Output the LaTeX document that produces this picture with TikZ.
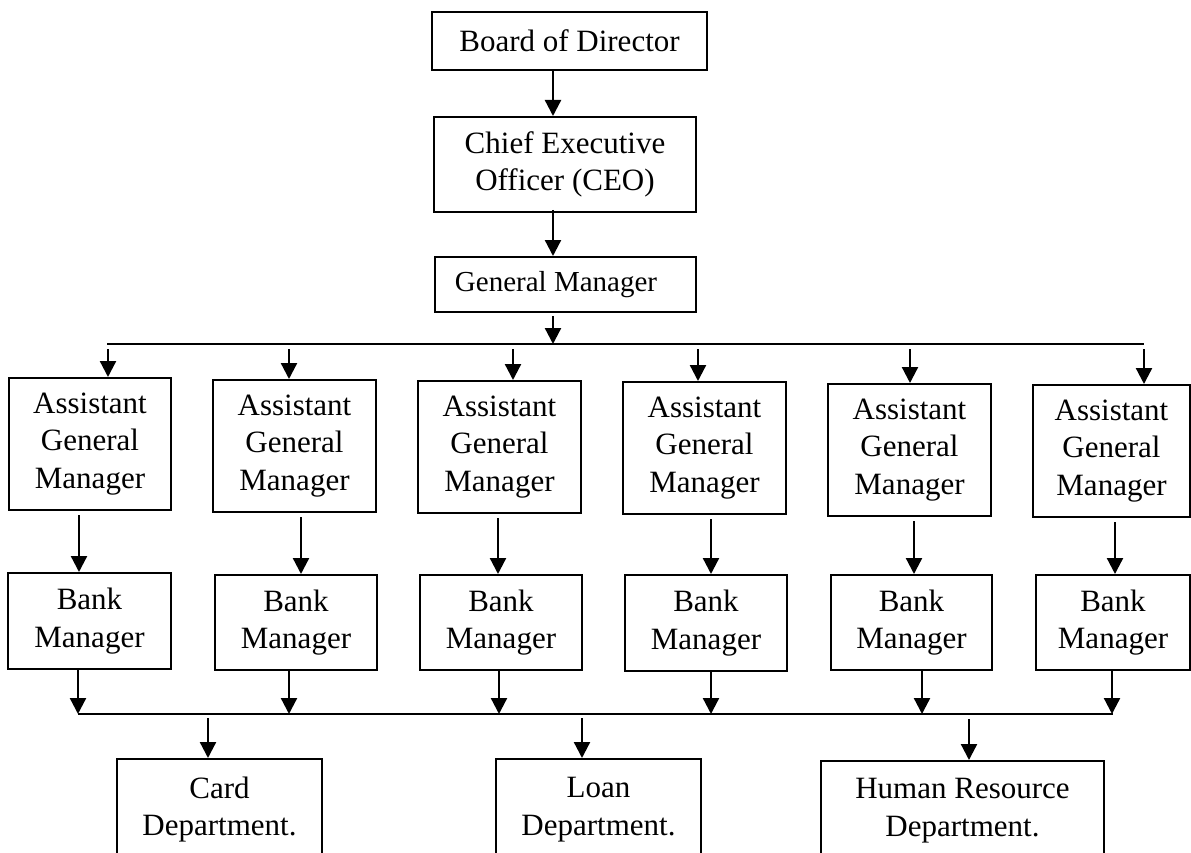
\documentclass[tikz,border=0pt]{standalone}
\usepackage{fontspec}
\setmainfont{Liberation Serif}
\usetikzlibrary{arrows.meta}
\begin{document}
\begin{tikzpicture}[x=1pt,y=-1pt,
  box/.style={draw, line width=2pt, inner sep=0pt, align=center,
    font=\fontsize{31}{37.5}\selectfont},
  arr/.style={line width=2.3pt, -{Triangle[length=16pt,width=16pt]}},
  bus/.style={line width=2.3pt}]
\clip (0,0) rectangle (1191,853);

% top of the chain
\node[box, minimum width=275pt, minimum height=58pt] (board) at (569.5,41) {Board of Director};
\node[box, minimum width=262pt, minimum height=95pt] (ceo) at (565,164.5) {Chief Executive\\Officer (CEO)};
\node[box, minimum width=261pt, minimum height=55pt, font=\fontsize{29}{35}\selectfont] (gm) at (565.5,284.5) {General Manager\hspace*{19pt}};

% assistant general managers
\node[box, minimum width=162pt, minimum height=132pt] (agm1) at (90,444) {Assistant\\General\\Manager};
\node[box, minimum width=163pt, minimum height=132pt] (agm2) at (294.5,446) {Assistant\\General\\Manager};
\node[box, minimum width=163pt, minimum height=132pt] (agm3) at (499.5,447) {Assistant\\General\\Manager};
\node[box, minimum width=163pt, minimum height=132pt] (agm4) at (704.5,448) {Assistant\\General\\Manager};
\node[box, minimum width=163pt, minimum height=132pt] (agm5) at (909.5,450) {Assistant\\General\\Manager};
\node[box, minimum width=157pt, minimum height=132pt] (agm6) at (1111.5,451) {Assistant\\General\\Manager};

% bank managers
\node[box, minimum width=163pt, minimum height=96pt] (bm1) at (89.5,621) {Bank\\Manager};
\node[box, minimum width=162pt, minimum height=95pt] (bm2) at (296,622.5) {Bank\\Manager};
\node[box, minimum width=162pt, minimum height=95pt] (bm3) at (501,622.5) {Bank\\Manager};
\node[box, minimum width=162pt, minimum height=96pt] (bm4) at (706,623) {Bank\\Manager};
\node[box, minimum width=161pt, minimum height=95pt] (bm5) at (911.5,622.5) {Bank\\Manager};
\node[box, minimum width=154pt, minimum height=95pt] (bm6) at (1113,622.5) {Bank\\Manager};

% departments
\node[box, minimum width=205pt, minimum height=101pt] (card) at (219.5,809.5) {Card\\Department.};
\node[box, minimum width=205pt, minimum height=101pt] (loan) at (598.5,809.5) {Loan\\Department.};
\node[box, minimum width=283pt, minimum height=99pt] (hr) at (962.5,810.5) {Human Resource\\Department.};

% vertical guide positions of the connectors
\coordinate (spine) at (553,0);
\coordinate (tbl) at (107,344);
\coordinate (tbr) at (1144,344);
\coordinate (tbm) at (553,344);
\coordinate (bbl) at (78,714);
\coordinate (bbr) at (1113,714);

% board -> ceo -> gm -> upper bus
\draw[arr] (board.south -| spine) -- (ceo.north -| spine);
\draw[arr, shorten <=-3pt] (ceo.south -| spine) -- (gm.north -| spine);
\draw[arr, shorten <=3pt] (gm.south -| spine) -- (tbm);
\draw[bus] (tbl) -- (tbr);

% upper bus -> assistant general managers
\foreach \i/\x in {1/108,2/289,3/513,4/698,5/910,6/1144}{
  \coordinate (u\i) at (\x,349);
  \draw[arr] (u\i) -- (u\i |- agm\i.north);
}

% assistant general managers -> bank managers
\foreach \i/\x in {1/79,2/301,3/498,4/711,5/914,6/1115}{
  \coordinate (m\i) at (\x,0);
  \draw[arr, shorten <=4pt] (agm\i.south -| m\i) -- (bm\i.north -| m\i);
}

% bank managers -> lower bus
\foreach \i/\x in {1/78,2/289,3/499,4/711,5/922,6/1112}{
  \coordinate (l\i) at (\x,714);
  \draw[arr] (bm\i.south -| l\i) -- (l\i);
}
\draw[bus] (bbl) -- (bbr);

% lower bus -> departments
\coordinate (dc) at (208,718);
\coordinate (dl) at (582,718);
\coordinate (dh) at (969,719);
\draw[arr] (dc) -- (dc |- card.north);
\draw[arr] (dl) -- (dl |- loan.north);
\draw[arr] (dh) -- (dh |- hr.north);
\end{tikzpicture}
\end{document}
